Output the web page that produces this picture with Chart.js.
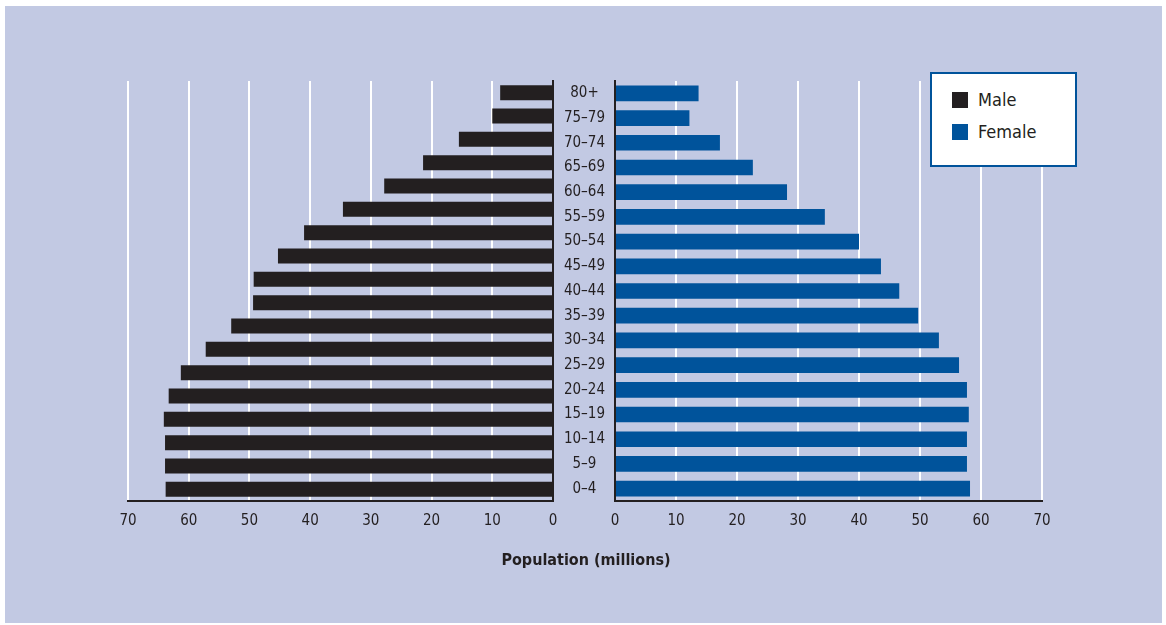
<!DOCTYPE html>
<html>
<head>
<meta charset="utf-8">
<script src="https://cdn.jsdelivr.net/npm/chart.js@4.4.1/dist/chart.umd.min.js"></script>
<style>
  body { margin: 0; background: #fff; font-family: 'Liberation Sans Narrow', 'DejaVu Sans Condensed', 'Arial Narrow', sans-serif; }
  #frame { position: absolute; left: 5px; top: 6px; width: 1157px; height: 617px; background: #c2c9e3; }
  .wrap { position: absolute; top: 0; height: 625px; }
  #maleWrap { left: 0; width: 600px; }
  #femaleWrap { left: 520px; width: 646px; }
  #legend { position: absolute; left: 930px; top: 72px; width: 143px; height: 91px; background: #fff; border: 2px solid #00539b; color: #231f20; font-size: 18px; }
  .item { position: absolute; left: 20px; height: 16px; line-height: 16px; white-space: nowrap; }
  .item span { display: inline-block; width: 16px; height: 16px; vertical-align: top; margin-right: 10px; }
  #title { position: absolute; left: 0; width: 1172px; top: 550px; text-align: center; font-weight: bold; font-size: 16px; color: #231f20; }
</style>
</head>
<body>
<div id="frame"></div>
<div class="wrap" id="maleWrap"><canvas id="maleChart"></canvas></div>
<div class="wrap" id="femaleWrap"><canvas id="femaleChart"></canvas></div>
<div id="legend">
  <div class="item" style="top:18px"><span style="background:#231f20"></span>Male</div>
  <div class="item" style="top:50px"><span style="background:#00539b"></span>Female</div>
</div>
<div id="title">Population (millions)</div>
<script>
// age groups, top to bottom
const ageGroups = ['80+', '75–79', '70–74', '65–69', '60–64', '55–59', '50–54', '45–49', '40–44',
  '35–39', '30–34', '25–29', '20–24', '15–19', '10–14', '5–9', '0–4'];

// male side shows 18 bars in the source picture
const maleValues = [8.7, 10.0, 15.5, 21.4, 27.8, 34.6, 41.0, 45.3, 49.3, 49.4, 53.0, 57.2, 61.3, 63.3, 64.1, 63.9, 63.9, 63.8];
const femaleValues = [13.7, 12.2, 17.2, 22.6, 28.2, 34.4, 40.0, 43.6, 46.6, 49.7, 53.1, 56.4, 57.7, 58.0, 57.7, 57.7, 58.2];

const axisTicks = [0, 10, 20, 30, 40, 50, 60, 70];

const ink = '#231f20';
const blue = '#00539b';
const fontFamily = "'Liberation Sans Narrow', 'DejaVu Sans Condensed', 'Arial Narrow', sans-serif";

function xScale(reverse) {
    return {
        type: 'linear',
        reverse: reverse,
        min: axisTicks[0],
        max: axisTicks[axisTicks.length - 1],
        afterBuildTicks: function(scale) {
            scale.ticks = axisTicks.map(v => ({ value: v }));
        },
        afterFit: function(scale) { scale.height = 40; },
        grid: { color: '#ffffff', lineWidth: 2, drawTicks: false },
        border: { color: ink, width: 2 },
        ticks: { color: ink, padding: 11, font: { family: fontFamily, size: 15 } }
    };
}

const maleCtx = document.getElementById('maleChart').getContext('2d');
const maleChart = new Chart(maleCtx, {
    type: 'bar',
    data: {
        labels: maleValues.map((v, i) => i),
        datasets: [{
            label: 'Male',
            data: maleValues,
            backgroundColor: ink,
            borderWidth: 0,
            barPercentage: 1,
            categoryPercentage: 0.64
        }]
    },
    options: {
        indexAxis: 'y',
        responsive: true,
        maintainAspectRatio: false,
        animation: false,
        layout: { padding: { left: 128, right: 47, top: 81, bottom: 84 } },
        plugins: { legend: { display: false }, tooltip: { enabled: false } },
        scales: {
            x: xScale(true),
            y: {
                position: 'right',
                afterFit: function(scale) { scale.width = 0; },
                grid: { display: false },
                border: { color: ink, width: 2 },
                ticks: { display: false }
            }
        }
    }
});

const femaleCtx = document.getElementById('femaleChart').getContext('2d');
const femaleChart = new Chart(femaleCtx, {
    type: 'bar',
    data: {
        labels: ageGroups,
        datasets: [{
            label: 'Female',
            data: femaleValues,
            backgroundColor: blue,
            borderWidth: 0,
            barPercentage: 1,
            categoryPercentage: 0.635
        }]
    },
    options: {
        indexAxis: 'y',
        responsive: true,
        maintainAspectRatio: false,
        animation: false,
        layout: { padding: { left: 33, right: 124, top: 81, bottom: 84 } },
        plugins: { legend: { display: false }, tooltip: { enabled: false } },
        scales: {
            x: xScale(false),
            y: {
                position: 'left',
                afterFit: function(scale) { scale.width = 62; },
                grid: { display: false },
                border: { color: ink, width: 2 },
                ticks: { color: ink, crossAlign: 'center', padding: 2, font: { family: fontFamily, size: 15 } }
            }
        }
    }
});
</script>
</body>
</html>
